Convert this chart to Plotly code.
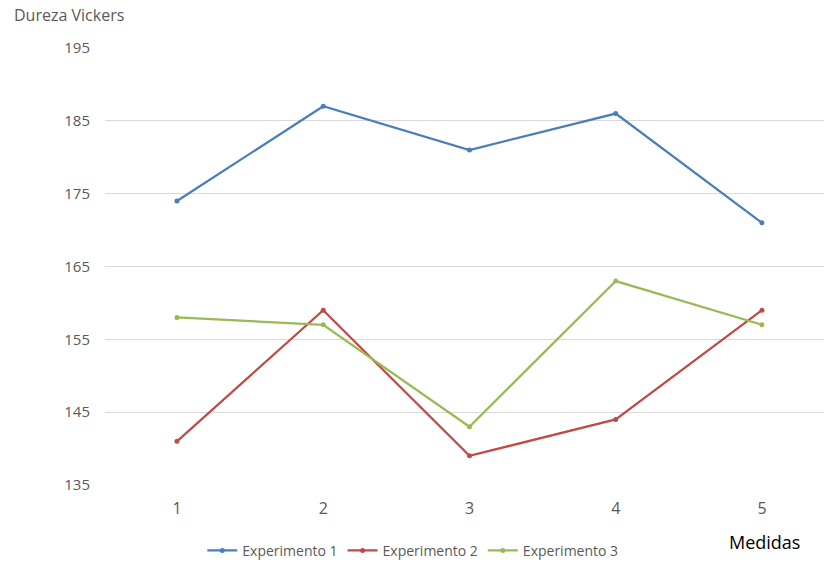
import plotly.graph_objects as go

medidas = [1, 2, 3, 4, 5]
experimento_1 = [174, 187, 181, 186, 171]
experimento_2 = [141, 159, 139, 144, 159]
experimento_3 = [158, 157, 143, 163, 157]
y_ticks = [135, 145, 155, 165, 175, 185, 195]

series = [
    ("Experimento 1", experimento_1, "#4A7EBB"),
    ("Experimento 2", experimento_2, "#BE4B48"),
    ("Experimento 3", experimento_3, "#98B954"),
]

fig = go.Figure()
for name, vals, color in series:
    fig.add_trace(go.Scatter(
        x=medidas, y=vals, name=name, mode="lines+markers",
        line=dict(color=color, width=2.25),
        marker=dict(color=color, size=5),
    ))

font_family = "Open Sans, Liberation Sans, Arial, sans-serif"

fig.update_layout(
    width=824, height=565,
    margin=dict(l=105, r=0, t=48, b=80, autoexpand=False),
    paper_bgcolor="white", plot_bgcolor="white",
    font=dict(family=font_family, color="#595959", size=14),
    showlegend=True,
    legend=dict(
        orientation="h", xref="container", x=0.501, xanchor="center",
        yref="container", y=0.025, yanchor="middle",
        font=dict(size=14, color="#595959"), itemwidth=30,
        tracegroupgap=0,
    ),
    xaxis=dict(
        range=[0.508, 5.424], tickmode="array", tickvals=medidas,
        ticktext=[str(m) for m in medidas], showgrid=False, zeroline=False,
        showline=False, ticks="", tickfont=dict(size=16, color="#595959"),
        ticklabelstandoff=12,
    ),
    yaxis=dict(
        range=[135, 195], tickmode="array", tickvals=y_ticks,
        showgrid=True, gridcolor="#D9D9D9", gridwidth=1, zeroline=False,
        showline=False, ticks="", tickfont=dict(size=15, color="#595959"),
        ticklabelstandoff=14,
    ),
    annotations=[
        dict(text="Dureza Vickers", xref="paper", yref="paper",
             x=-0.13, y=1.0, xanchor="left", yanchor="bottom", yshift=20,
             showarrow=False, font=dict(size=16, color="#595959")),
        dict(text="Medidas", xref="paper", yref="paper",
             x=0.917, y=0, xanchor="center", yanchor="middle", yshift=-57,
             showarrow=False, font=dict(size=18, color="#000000")),
    ],
)

fig.write_html("out.html")
